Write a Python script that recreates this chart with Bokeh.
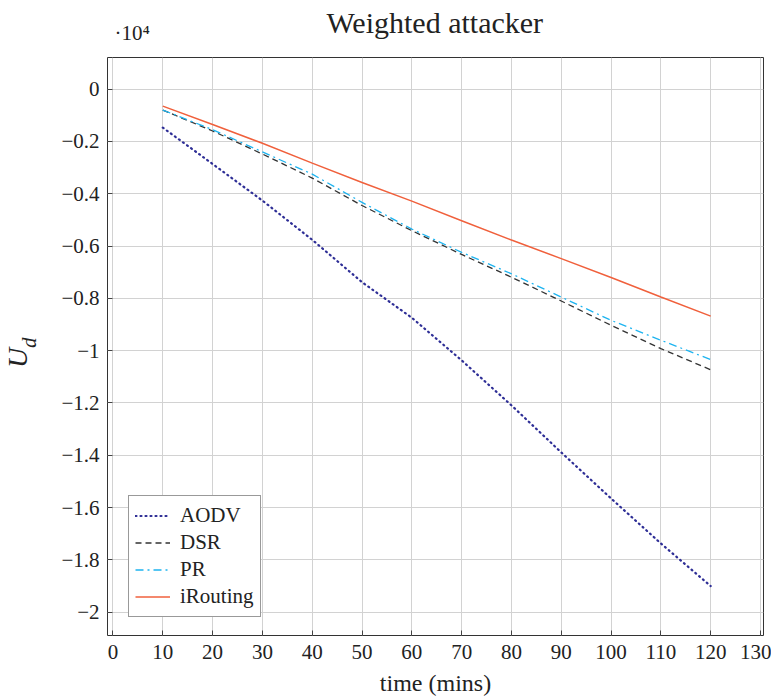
from bokeh.plotting import figure
from bokeh.models import Range1d, FixedTicker, Label, Legend, LegendItem
from bokeh.embed import file_html
from bokeh.resources import INLINE

# ---- data (values in units of 10^4, as displayed) ----
time_mins = [10, 20, 30, 40, 50, 60, 70, 80, 90, 100, 110, 120]
aodv = [-0.147, -0.286, -0.426, -0.576, -0.738, -0.874, -1.037, -1.209, -1.389, -1.565, -1.737, -1.900]
dsr = [-0.080, -0.160, -0.248, -0.340, -0.445, -0.541, -0.632, -0.719, -0.810, -0.903, -0.992, -1.073]
pr = [-0.080, -0.155, -0.240, -0.325, -0.433, -0.535, -0.624, -0.706, -0.795, -0.884, -0.960, -1.034]
irouting = [-0.065, -0.135, -0.207, -0.283, -0.357, -0.428, -0.503, -0.577, -0.648, -0.720, -0.795, -0.868]

x_ticks = [0, 10, 20, 30, 40, 50, 60, 70, 80, 90, 100, 110, 120, 130]
y_ticks = [0, -0.2, -0.4, -0.6, -0.8, -1, -1.2, -1.4, -1.6, -1.8, -2]
y_tick_labels = ["0", "\u22120.2", "\u22120.4", "\u22120.6", "\u22120.8", "\u22121",
                 "\u22121.2", "\u22121.4", "\u22121.6", "\u22121.8", "\u22122"]

FONT = "Liberation Serif"
X0, X1 = -1.1, 130.6
Y0, Y1 = -2.089, 0.121

p = figure(width=771, height=698, output_backend="svg", toolbar_location=None,
           x_range=Range1d(X0, X1), y_range=Range1d(Y0, Y1),
           min_border_left=107, min_border_right=8, min_border_top=57, min_border_bottom=62)

p.outline_line_color = "#333333"
p.outline_line_width = 1
p.background_fill_color = "white"
p.border_fill_color = "white"

for g in (p.xgrid, p.ygrid):
    g.grid_line_color = "#d2d2d2"
    g.grid_line_width = 1

p.xaxis.ticker = FixedTicker(ticks=x_ticks)
p.yaxis.ticker = FixedTicker(ticks=y_ticks)
p.yaxis.major_label_overrides = {t: l for t, l in zip(y_ticks, y_tick_labels)}

for ax in (p.xaxis, p.yaxis):
    ax.axis_line_color = None
    ax.major_tick_in = 5
    ax.major_tick_out = 0
    ax.minor_tick_line_color = None
    ax.major_tick_line_color = "#444444"
    ax.major_label_text_font = FONT
    ax.major_label_text_font_size = "21px"
    ax.major_label_text_color = "#222222"

p.xaxis.major_label_standoff = 9
p.yaxis.major_label_standoff = 8
p.xaxis.axis_label = "time (mins)"
p.xaxis.axis_label_text_font = FONT
p.xaxis.axis_label_text_font_style = "normal"
p.xaxis.axis_label_text_font_size = "24px"
p.xaxis.axis_label_text_color = "#222222"
p.xaxis.axis_label_standoff = 8

r_aodv = p.line(time_mins, aodv, line_color="#2e2e96", line_width=2.2, line_dash="1 4", line_cap="round")
r_dsr = p.line(time_mins, dsr, line_color="#333333", line_width=1.3, line_dash="6 4")
r_pr = p.line(time_mins, pr, line_color="#1eb4f0", line_width=1.3, line_dash="8 4 2 4")
r_ir = p.line(time_mins, irouting, line_color="#f0603c", line_width=1.5)

legend = Legend(items=[
    LegendItem(label="AODV", renderers=[r_aodv]),
    LegendItem(label="DSR", renderers=[r_dsr]),
    LegendItem(label="PR", renderers=[r_pr]),
    LegendItem(label="iRouting", renderers=[r_ir]),
], location=(21, 18))
legend.label_text_font = FONT
legend.label_text_font_size = "21px"
legend.label_text_color = "#222222"
legend.glyph_width = 35
legend.glyph_height = 27
legend.label_height = 27
legend.label_standoff = 10
legend.spacing = 0
legend.padding = 6
legend.margin = 0
legend.border_line_color = "#333333"
legend.border_line_width = 1
legend.background_fill_alpha = 1
p.add_layout(legend, "center")

# title and exponent marker (placed in the top border panel, data-positioned)
p.add_layout(Label(x=64.6, y=0.254, text="Weighted attacker", text_align="center",
                   text_font=FONT, text_font_size="30px", text_color="#222222",
                   text_baseline="alphabetic"), "above")
p.add_layout(Label(x=0.3, y=0.213, text="\u00b710\u2074",
                   text_font=FONT, text_font_size="21px", text_color="#222222",
                   text_baseline="alphabetic"), "above")

# y axis label U_d (rotated, placed in the left border panel)
p.add_layout(Label(x=-19.2, y=-1.066, text="U",
                   angle=1.5708, text_font=FONT, text_font_style="italic",
                   text_font_size="28px", text_color="#222222", text_baseline="alphabetic"), "left")
p.add_layout(Label(x=-16.8, y=-0.990, text="d",
                   angle=1.5708, text_font=FONT, text_font_style="italic",
                   text_font_size="21px", text_color="#222222", text_baseline="alphabetic"), "left")

open("out.html", "w").write(file_html(p, INLINE))
